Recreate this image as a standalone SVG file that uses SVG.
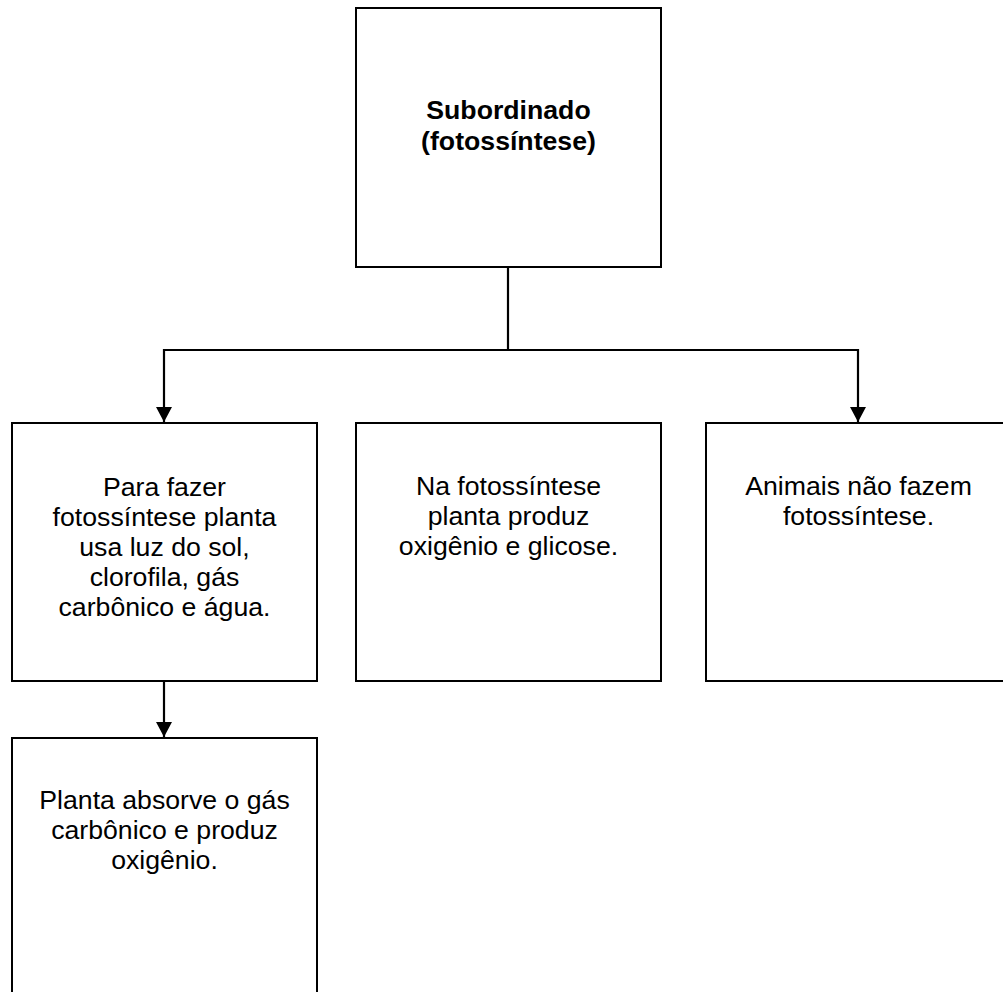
<svg xmlns="http://www.w3.org/2000/svg" width="1003" height="992" viewBox="0 0 1003 992">
  <style>
    .box { fill: #ffffff; stroke: #000000; stroke-width: 2; }
    .link { fill: none; stroke: #000000; stroke-width: 2.2; }
    .label { font-family: "Liberation Sans", Arial, sans-serif; font-size: 26.67px; fill: #000000; text-anchor: middle; }
    .title { font-weight: bold; }
  </style>
  <defs>
    <marker id="arrow" markerUnits="userSpaceOnUse" markerWidth="16" markerHeight="17" refX="15" refY="8" orient="auto" overflow="visible">
      <path d="M0,0 L15,8 L0,16 Z" fill="#000000"/>
    </marker>
  </defs>
  <rect width="1003" height="992" fill="#ffffff"/>

  <!-- connectors -->
  <g id="connectors">
    <polyline class="link" points="508,267 508,350 164,350 164,422" marker-end="url(#arrow)"/>
    <polyline class="link" points="508,350 858,350 858,422" marker-end="url(#arrow)"/>
    <line class="link" x1="164" y1="681" x2="164" y2="737" marker-end="url(#arrow)"/>
  </g>

  <!-- root -->
  <g id="node-root">
    <rect class="box" x="356" y="8" width="305" height="259"/>
    <text class="label title" x="508.5" y="119">Subordinado</text>
    <text class="label title" x="508.5" y="150">(fotossíntese)</text>
  </g>

  <g id="node-ingredientes">
    <rect class="box" x="12" y="423" width="305" height="258"/>
    <text class="label" x="164.5" y="496">Para fazer</text>
    <text class="label" x="164.5" y="526">fotossíntese planta</text>
    <text class="label" x="164.5" y="556">usa luz do sol,</text>
    <text class="label" x="164.5" y="586">clorofila, gás</text>
    <text class="label" x="164.5" y="616">carbônico e água.</text>
  </g>

  <g id="node-produtos">
    <rect class="box" x="356" y="423" width="305" height="258"/>
    <text class="label" x="508.5" y="495">Na fotossíntese</text>
    <text class="label" x="508.5" y="525">planta produz</text>
    <text class="label" x="508.5" y="555">oxigênio e glicose.</text>
  </g>

  <g id="node-animais">
    <rect class="box" x="706" y="423" width="305" height="258"/>
    <text class="label" x="858.5" y="495">Animais não fazem</text>
    <text class="label" x="858.5" y="525">fotossíntese.</text>
  </g>

  <g id="node-absorcao">
    <rect class="box" x="12" y="738" width="305" height="270"/>
    <text class="label" x="164.5" y="809">Planta absorve o gás</text>
    <text class="label" x="164.5" y="839">carbônico e produz</text>
    <text class="label" x="164.5" y="869">oxigênio.</text>
  </g>
</svg>
